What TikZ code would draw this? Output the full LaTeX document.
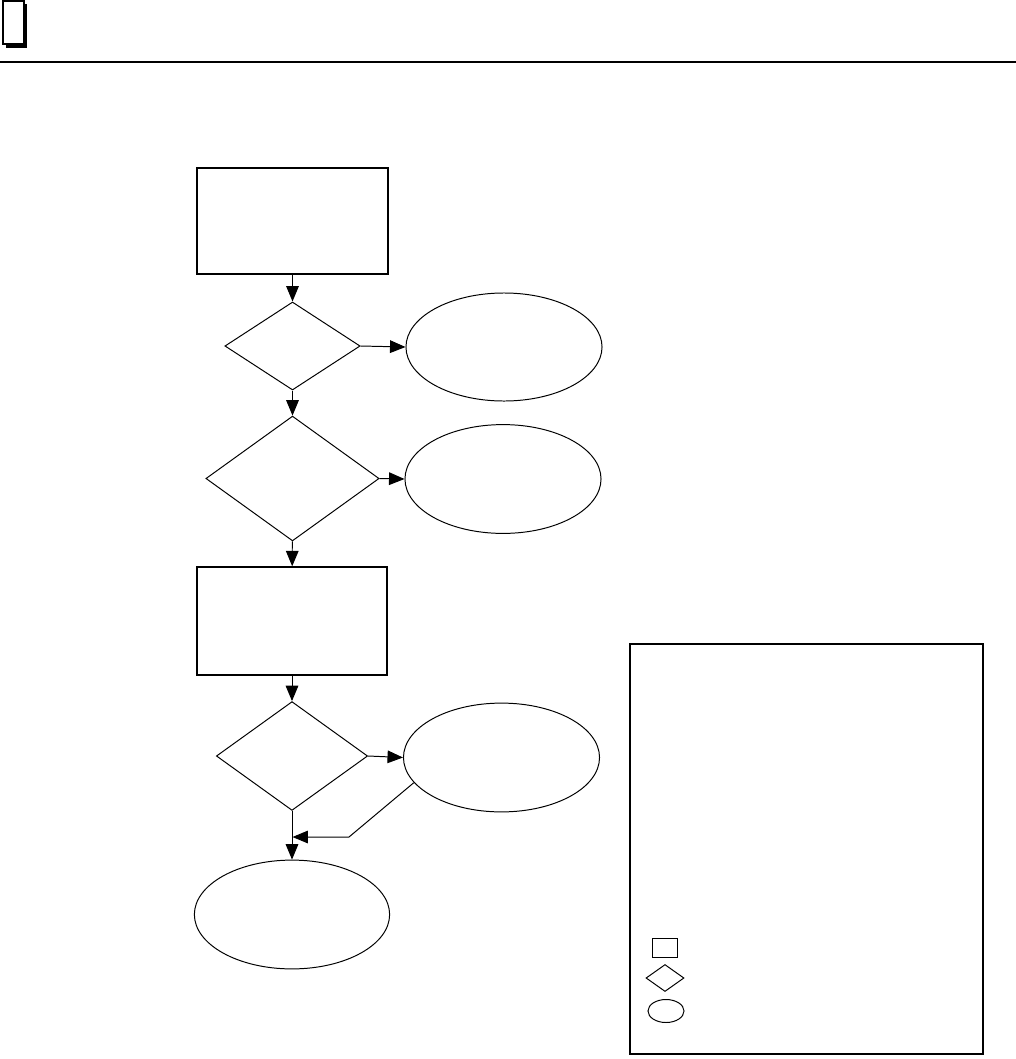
\documentclass[tikz,border=0pt]{standalone}
\usetikzlibrary{shapes.geometric,arrows.meta}

\begin{document}
\begin{tikzpicture}[x=0.025cm,y=-0.025cm,>={Triangle[length=11pt,width=9pt]},
  stepbox/.style={draw, rectangle, line width=1pt, inner sep=0pt},
  test/.style={draw, diamond, line width=0.7pt, inner sep=0pt},
  term/.style={draw, ellipse, line width=0.7pt, inner sep=0pt},
  link/.style={->, line width=0.7pt}]
\useasboundingbox (0,0) rectangle (1016,1059);

% page header
\fill (6,4) rectangle (27,48);
\node[draw, fill=white, rectangle, line width=1.2pt, minimum width=0.52cm, minimum height=1.08cm] (tab) at (13.5,22.5) {};
\draw[line width=1.5pt] (0,62) -- (1016,62);

% flow
\node[stepbox, minimum width=4.78cm, minimum height=2.65cm] (start) at (292.5,221) {};
\node[test, minimum width=3.38cm, minimum height=2.2cm] (chk1) at (292.5,346) {};
\node[term, minimum width=4.9cm, minimum height=2.7cm] (out1) at (504,347) {};
\node[test, minimum width=4.33cm, minimum height=3.12cm] (chk2) at (292.5,478.5) {};
\node[term, minimum width=4.9cm, minimum height=2.72cm] (out2) at (503,479) {};
\node[stepbox, minimum width=4.75cm, minimum height=2.7cm] (work) at (292,621) {};
\node[test, minimum width=3.78cm, minimum height=2.72cm] (chk3) at (292,756) {};
\node[term, minimum width=4.9cm, minimum height=2.72cm] (out3) at (501.5,757.5) {};
\node[term, minimum width=4.88cm, minimum height=2.72cm] (done) at (292,914.5) {};

\draw[link] (start) -- (chk1);
\draw[link] (chk1.east) -- (out1.west);
\draw[link] (chk1) -- (chk2);
\draw[link] (chk2.east) -- (out2.west);
\draw[link] (chk2) -- (work);
\draw[link] (work) -- (chk3);
\draw[link] (chk3.east) -- (out3.west);
\draw[link] (chk3) -- (done);

\coordinate (bend) at (349,837);
\coordinate (merge) at (292.5,837);
\draw[link] (out3.196) -- (bend) -- (merge);

% legend
\node[draw, rectangle, line width=1.4pt, minimum width=8.83cm, minimum height=10.25cm] (legend) at (806.5,849) {};
\node[stepbox, minimum width=0.625cm, minimum height=0.475cm] (keybox) at (665,948) {};
\node[test, minimum width=0.95cm, minimum height=0.675cm] (keytest) at (665,978) {};
\node[term, minimum width=0.9cm, minimum height=0.575cm] (keyterm) at (666,1011) {};
\end{tikzpicture}
\end{document}
